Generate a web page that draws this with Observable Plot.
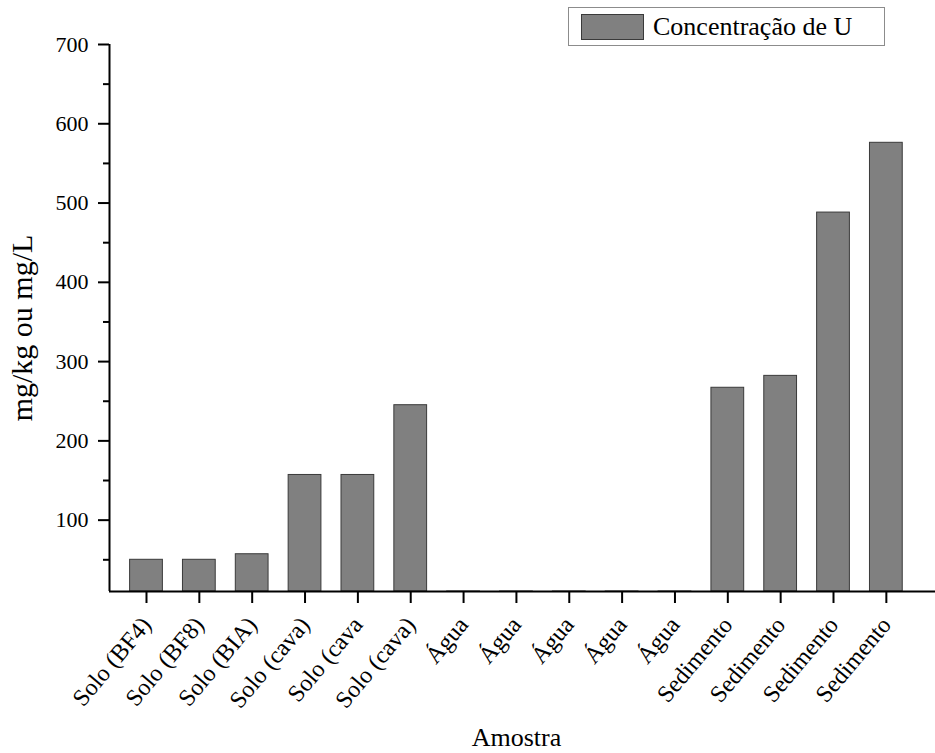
<!DOCTYPE html>
<html>
<head>
<meta charset="utf-8">
<script src="https://cdn.jsdelivr.net/npm/d3@7"></script>
<script src="https://cdn.jsdelivr.net/npm/@observablehq/plot@0.6"></script>
<style>
  body { margin: 0; background: #fff; }
  #chart { position: relative; width: 935px; height: 753px; font-family: "Liberation Serif", "Times New Roman", serif; }
  #chart svg { display: block; }
  #chart svg, #chart svg text { font-family: "Liberation Serif", "Times New Roman", serif !important; }
  .legend {
    position: absolute; left: 568px; top: 7px; width: 317px; height: 39px;
    box-sizing: border-box; border: 1px solid #8c8c8c; background: #fff;
    display: flex; align-items: center; padding-left: 12px;
    font-family: "Liberation Serif", "Times New Roman", serif; font-size: 26px; color: #000;
  }
  .legend .swatch { width: 63px; height: 26px; box-sizing: border-box; background: #808080; border: 1px solid #3a3a3a; margin-right: 9px; }
</style>
</head>
<body>
<div id="chart"></div>
<script>
// Samples (x categories) and their uranium concentration
const samples = [
  "Solo (BF4)", "Solo (BF8)", "Solo (BIA)", "Solo (cava)", "Solo (cava", "Solo (cava)",
  "Água", "Água", "Água", "Água", "Água",
  "Sedimento", "Sedimento", "Sedimento", "Sedimento"
];
const concentrations = [50, 50, 57, 157, 157, 245, 0, 0, 0, 0, 0, 267, 282, 488, 576];

// Axis settings
const yDomain = [10, 700];
const yTicks = [100, 200, 300, 400, 500, 600, 700];
const yMinorTicks = [50, 150, 250, 350, 450, 550, 650];
const xDomain = [-0.7, 14.93];
const barWidth = 0.62;

const rows = samples.map((sample, i) => ({ i, sample, value: concentrations[i] }));

const chart = Plot.plot({
  width: 935,
  height: 753,
  marginTop: 44,
  marginBottom: 162,
  marginLeft: 109,
  marginRight: 0,
  style: { fontFamily: "Liberation Serif, serif", fontSize: "22px", color: "#000", background: "#fff" },
  x: { domain: xDomain },
  y: { domain: yDomain },
  marks: [
    Plot.rectY(rows, {
      x1: d => d.i - barWidth / 2,
      x2: d => d.i + barWidth / 2,
      y1: yDomain[0],
      y2: "value",
      fill: "#808080",
      stroke: "#3a3a3a",
      strokeWidth: 1,
      clip: true
    }),
    // axis lines
    Plot.ruleX([xDomain[0]], { y1: yDomain[0], y2: yDomain[1], stroke: "#000", strokeWidth: 2 }),
    Plot.ruleY([yDomain[0]], { stroke: "#000", strokeWidth: 2 }),
    // y axis
    Plot.axisY({ ticks: yMinorTicks, tickSize: 6, tickFormat: () => "", label: null, strokeWidth: 2 }),
    Plot.axisY({ ticks: yTicks, tickSize: 11, tickPadding: 10, tickFormat: d => String(d), label: null, strokeWidth: 2, fontSize: 22 }),
    // x axis
    Plot.axisX({
      ticks: d3.range(samples.length),
      tickSize: 12,
      tickPadding: 17,
      tickRotate: -50,
      tickFormat: i => samples[i],
      label: null,
      strokeWidth: 2,
      fontSize: 24
    }),
    // axis titles
    Plot.text(["Amostra"], { frameAnchor: "bottom", dx: -6, dy: 146, lineAnchor: "middle", textAnchor: "middle", fontSize: 26 }),
    Plot.text(["mg/kg ou mg/L"], { frameAnchor: "left", rotate: -90, dx: -87, dy: 10, lineAnchor: "middle", textAnchor: "middle", fontSize: 30 })
  ]
});

const container = document.getElementById("chart");
container.append(chart);

const legend = document.createElement("div");
legend.className = "legend";
legend.innerHTML = '<span class="swatch"></span><span>Concentração de U</span>';
container.append(legend);
</script>
</body>
</html>
